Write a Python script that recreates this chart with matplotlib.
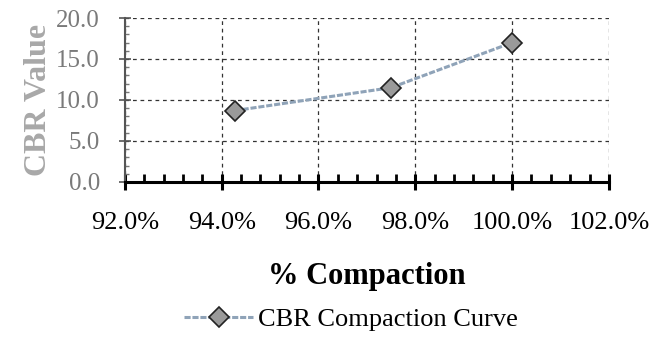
import matplotlib.pyplot as plt
from matplotlib.ticker import MultipleLocator, FuncFormatter

# data
compaction = [94.27, 97.5, 100.0]   # % compaction
cbr_value = [8.7, 11.5, 17.0]
series_name = 'CBR Compaction Curve'

plt.rcParams['font.family'] = ['Liberation Serif', 'DejaVu Serif']

fig = plt.figure(figsize=(6.54, 3.40), dpi=100)
ax = fig.add_axes([0.191, 0.465, 0.740, 0.482])

ax.plot(compaction, cbr_value, color='#8fa3b8', lw=2.2, ls=(0, (2, 0.6)),
        marker='D', markersize=10, markerfacecolor='#9a9a9a',
        markeredgecolor='#222222', markeredgewidth=1.2, label=series_name)

ax.set_xlim(92, 102)
ax.set_ylim(0, 20)
ax.xaxis.set_major_locator(MultipleLocator(2))
ax.xaxis.set_minor_locator(MultipleLocator(0.4))
ax.yaxis.set_major_locator(MultipleLocator(5))
ax.yaxis.set_minor_locator(MultipleLocator(1))
ax.xaxis.set_major_formatter(FuncFormatter(lambda v, p: f'{v:.1f}%'))
ax.yaxis.set_major_formatter(FuncFormatter(lambda v, p: f'{v:.1f}'))

ax.grid(True, which='major', color='#333333', ls=(0, (3, 3)), lw=0.9)
for s in ['top', 'right']:
    ax.spines[s].set_visible(False)
ax.spines['bottom'].set_linewidth(2.2)
ax.spines['left'].set_linewidth(1.5)
ax.spines['left'].set_color('#555555')

ax.tick_params(axis='x', which='major', direction='inout', length=12,
               width=2.2, labelsize=19, pad=16, colors='black')
ax.tick_params(axis='x', which='minor', direction='in', length=6, width=2)
ax.tick_params(axis='y', which='major', direction='inout', length=8,
               width=1.2, labelsize=18, pad=14, labelcolor='#7a7a7a',
               color='#555555')
ax.tick_params(axis='y', which='minor', direction='in', length=3,
               width=1, color='#777777')

ax.set_xlabel('% Compaction', fontsize=22, fontweight='bold', labelpad=20)
ax.set_ylabel('CBR Value', fontsize=23, fontweight='bold', color='#a8a8a8',
              labelpad=2)

fig.legend(loc='center', bbox_to_anchor=(0.537, 0.06), frameon=False,
           fontsize=19, handlelength=2.6, handletextpad=0.2)

plt.savefig('out.png', dpi=100)
